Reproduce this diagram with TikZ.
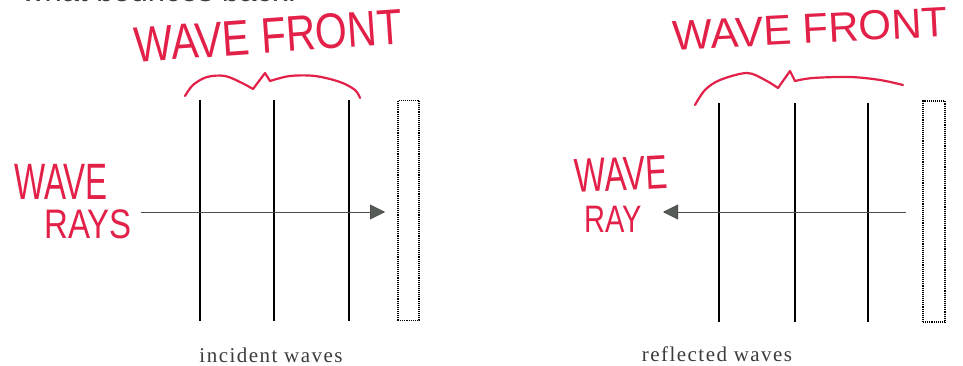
\documentclass[tikz,border=0pt]{standalone}
\usepackage{fontspec}
\setmainfont{Liberation Serif}
\newfontfamily\handfont{Liberation Sans}
\newfontfamily\topfont{Liberation Sans}
\newfontfamily\capfont[LetterSpace=7]{Liberation Serif}
\usetikzlibrary{arrows.meta}
\definecolor{redink}{RGB}{226,32,72}
\definecolor{raygray}{RGB}{75,78,75}
\definecolor{tipgray}{RGB}{85,92,85}
\definecolor{capgray}{RGB}{60,60,60}
\newcommand{\hwtext}[3]{\scalebox{1}[#2]{\fontsize{#1}{#1}\selectfont #3}}
\begin{document}
\begin{tikzpicture}[x=1pt,y=-1pt,
  hand/.style={text=redink,inner sep=0pt,font=\handfont},
  wavefront/.style={line width=1.7pt,black},
  wallbox/.style={draw=black,line width=1.1pt,densely dotted},
  ray/.style={draw=raygray,line width=0.8pt,-{Triangle[length=15pt,width=15pt,fill=tipgray]}},
  brace/.style={draw=redink,line width=2.2pt,line cap=round,line join=round},
  caption/.style={text=capgray,inner sep=0pt,font=\capfont\fontsize{21}{23}\selectfont}]
\useasboundingbox (0,0) rectangle (963,366);
\fill[white] (0,0) rectangle (963,366);
% cut-off text at the top
\begin{scope}
\clip (0,0) rectangle (963,366);
\node[anchor=base west,inner sep=0pt,text=capgray,font=\topfont\fontsize{31}{31}\selectfont] (toptext) at (22,1.5) {what bounces back.};
\end{scope}

% ---------------- left diagram ----------------
\draw[wavefront] (200,100) -- (200,321);
\draw[wavefront] (274,100) -- (274,321);
\draw[wavefront] (349,100) -- (349,321);
\node[wallbox,minimum width=21pt,minimum height=220pt,inner sep=0pt] (wallL) at (408.5,210.5) {};
\coordinate (rayLs) at (141,212);
\coordinate (rayLe) at (385,212);
\draw[ray] (rayLs) -- (rayLe);
\node[caption] (capL) at (271,355) {incident waves};

\draw[brace] plot[smooth,tension=0.55] coordinates {(185,96) (193,85) (207,77) (225,76) (242,83) (253,89)};
\draw[brace] (253,89) -- (265,73) -- (270,81);
\draw[brace] plot[smooth,tension=0.55] coordinates {(270,81) (290,76) (315,76) (340,82) (355,90) (360,98)};

\node[hand,rotate=4] (wfL) at (268,36) {\hwtext{41}{1.22}{WAVE FRONT}};
\node[hand] (wvL) at (61,182) {\hwtext{33}{1.55}{WAVE}};
\node[hand] (rsL) at (88,224) {\hwtext{33}{1.25}{RAYS}};

% ---------------- right diagram ----------------
\draw[wavefront] (719,103) -- (719,322);
\draw[wavefront] (795,103) -- (795,322);
\draw[wavefront] (868,103) -- (868,322);
\node[wallbox,minimum width=22pt,minimum height=221pt,inner sep=0pt] (wallR) at (934,211.5) {};
\coordinate (rayRs) at (906,212);
\coordinate (rayRe) at (663,212);
\draw[ray] (rayRs) -- (rayRe);
\node[caption] (capR) at (717,354) {reflected waves};

\draw[brace] plot[smooth,tension=0.55] coordinates {(695,105) (705,90) (720,80) (747,73) (765,80) (778,88)};
\draw[brace] (778,88) -- (790,71) -- (795,81);
\draw[brace] plot[smooth,tension=0.55] coordinates {(795,81) (813,78) (850,77) (880,80) (903,85)};

\node[hand,rotate=3] (wfR) at (810,29) {\hwtext{42}{1.0}{WAVE FRONT}};
\node[hand,rotate=3] (wvR) at (621,174) {\hwtext{33}{1.45}{WAVE}};
\node[hand] (rsR) at (613,219) {\hwtext{29}{1.32}{RAY}};
\end{tikzpicture}
\end{document}
